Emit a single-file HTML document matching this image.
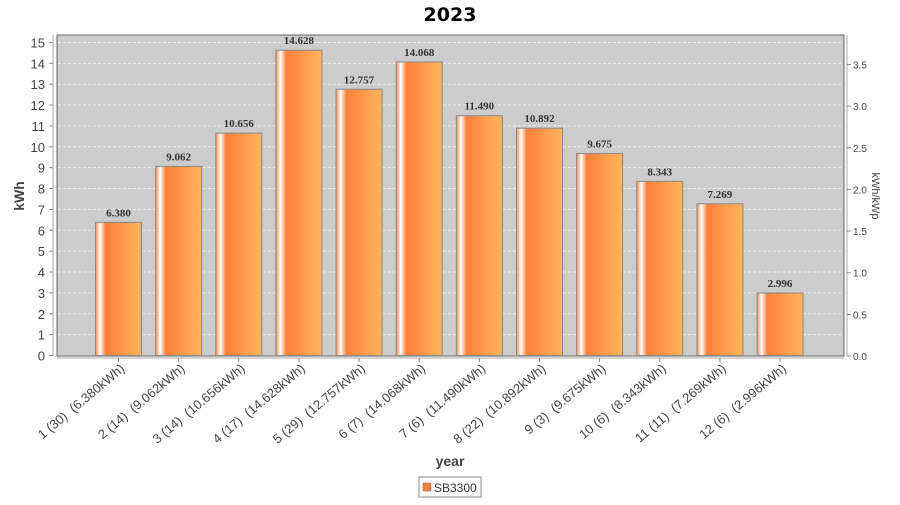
<!DOCTYPE html>
<html><head><meta charset="utf-8"><style>body{margin:0;background:#fff} text{white-space:pre}</style></head><body>
<svg width="900" height="500" xmlns="http://www.w3.org/2000/svg" font-family="Liberation Sans, DejaVu Sans, sans-serif">
<defs>
<linearGradient id="g" x1="0" x2="1" y1="0" y2="0">
<stop offset="0" stop-color="#ff8c4a"/>
<stop offset="0.1" stop-color="#ffffff"/>
<stop offset="0.22" stop-color="#ff7f3a"/>
<stop offset="1" stop-color="#ffb55e"/>
</linearGradient>
</defs>
<text x="450" y="21" text-anchor="middle" font-size="19" font-weight="bold" font-family="DejaVu Sans, sans-serif">2023</text>
<rect x="57" y="35" width="787" height="321" fill="#cccccc" stroke="#666" stroke-width="1"/>
<g stroke="#eee" stroke-dasharray="3,2" stroke-width="1" id="grid"></g>
<line x1="53" y1="35" x2="53" y2="356" stroke="#aaa"/>
<line x1="847" y1="35" x2="847" y2="356" stroke="#aaa"/>
<line x1="57" y1="358" x2="844" y2="358" stroke="#aaa"/>
<g id="left" font-size="13" fill="#444" text-anchor="end"></g>
<g id="right" font-size="10" fill="#444"></g>
<g id="bars"></g>
<text transform="translate(24,196) rotate(-90)" text-anchor="middle" font-size="14" font-weight="bold" fill="#444">kWh</text>
<text transform="translate(872,196) rotate(90)" text-anchor="middle" font-size="11" fill="#444">kWh/kWp</text>
<text x="450" y="466" text-anchor="middle" font-size="14" font-weight="bold" fill="#444">year</text>
<rect x="419" y="477" width="62" height="20" fill="#fff" stroke="#888"/>
<rect x="423" y="483" width="8" height="8" fill="#ff8040" stroke="#666" stroke-width="0.5"/>
<text x="434" y="492" font-size="12" fill="#333">SB3300</text>
</svg>
<script>
const ns="http://www.w3.org/2000/svg";
function el(p,t,a,txt){const e=document.createElementNS(ns,t);for(const k in a)e.setAttribute(k,a[k]);if(txt!==undefined)e.textContent=txt;document.getElementById(p).appendChild(e);}
const Y=v=>355.5-20.87*v;
for(let i=0;i<=15;i++){const y=Y(i);
 if(i>0)el("grid","line",{x1:58,x2:843,y1:y,y2:y});
 el("left","text",{x:45,y:y+5},i);
 el("left","line",{x1:49,x2:53,y1:y,y2:y,stroke:"#888"});}
for(let i=0;i<=7;i++){const v=i*0.5,y=356-83.3*v;
 el("right","text",{x:853,y:y+4},v.toFixed(1));
 el("right","line",{x1:847,x2:851,y1:y,y2:y,stroke:"#888"});}
const d=[6.380,9.062,10.656,14.628,12.757,14.068,11.490,10.892,9.675,8.343,7.269,2.996];
const n=[30,14,14,17,29,7,6,22,3,6,11,6];
d.forEach((v,i)=>{const cx=118.5+i*60.14,y=Y(v);
 el("bars","rect",{x:cx-23,y:y,width:46,height:355.5-y,fill:"url(#g)",stroke:"#888","stroke-width":1});
 el("bars","text",{x:cx,y:y-6,"text-anchor":"middle","font-size":11,"font-weight":"bold","font-family":"Liberation Serif, serif",fill:"#333"},v.toFixed(3));
 el("bars","line",{x1:cx,x2:cx,y1:358,y2:362,stroke:"#888"});
 el("bars","text",{transform:`translate(${cx+7},370) rotate(-40)`,"text-anchor":"end","font-size":13,fill:"#444"},`${i+1} (${n[i]})  (${v.toFixed(3)}kWh)`);
});
</script>
</body></html>
